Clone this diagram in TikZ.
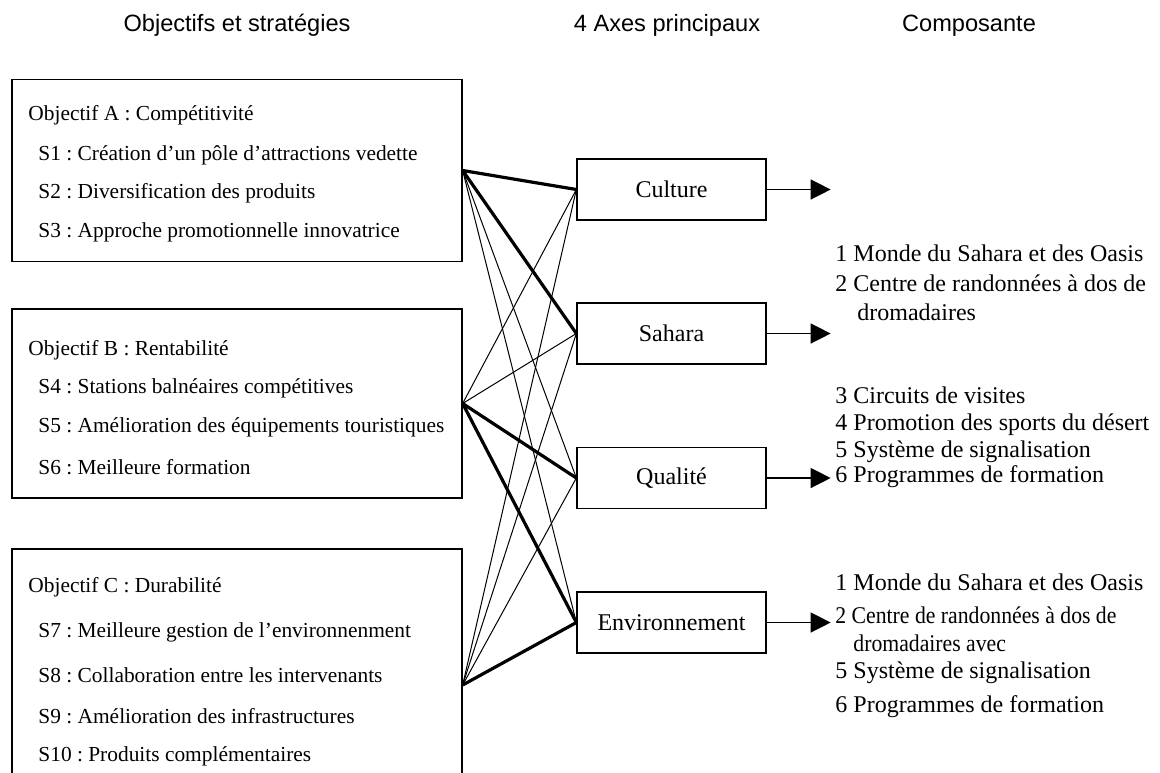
\documentclass[tikz,border=0pt]{standalone}
\usepackage{fontspec}
\setmainfont{Liberation Serif}
\newfontfamily\headfont{Liberation Sans}
\usepackage{tikz}
\usetikzlibrary{positioning,arrows.meta}
\frenchspacing

\begin{document}
\begin{tikzpicture}[x=0.5pt,y=-0.5pt,
		objbox/.style={draw, line width=0.65pt, minimum width=225pt, inner sep=0pt},
		axebox/.style={draw, line width=0.65pt, minimum width=94.5pt, minimum height=30.5pt,
			font=\fontsize{12}{14}\selectfont},
		head/.style={font=\headfont\fontsize{11.8}{14}\selectfont, text height=8.5pt, text depth=2.5pt},
		strat/.style={anchor=west, inner sep=0pt, font=\fontsize{10.7}{13}\selectfont},
		comp/.style={anchor=west, inner sep=0pt, font=\fontsize{12}{14}\selectfont},
		link/.style={line width=0.5pt},
		mainlink/.style={line width=1.6pt},
		outarrow/.style={line width=0.7pt, -{Triangle[length=10pt,width=10pt]}}]

		\useasboundingbox (0,0) rectangle (1160,772);
		\clip (0,0) rectangle (1160,772);

		% column titles
		\node[head] (h1) at (237,25) {Objectifs et stratégies};
		\node[head] (h2) at (667,25) {4 Axes principaux};
		\node[head] (h3) at (969,25) {Composante};

		% objectives
		\node[objbox, minimum height=91pt] (objA) at (237,170.5) {};
		\node[objbox, minimum height=94.5pt] (objB) at (237,403.5) {};
		\node[objbox, minimum height=136pt] (objC) at (237,685) {};

		\node[strat] (tA) at (28,115) {Objectif A : Compétitivité};
		\node[strat] (s1) at (38,155) {S1 : Création d’un pôle d’attractions vedette};
		\node[strat] (s2) at (38,193) {S2 : Diversification des produits};
		\node[strat] (s3) at (38,232) {S3 : Approche promotionnelle innovatrice};

		\node[strat] (tB) at (28,350) {Objectif B : Rentabilité};
		\node[strat] (s4) at (38,388) {S4 : Stations balnéaires compétitives};
		\node[strat] (s5) at (38,427) {S5 : Amélioration des équipements touristiques};
		\node[strat] (s6) at (38,467) {S6 : Meilleure formation};

		\node[strat] (tC) at (28,587) {Objectif C : Durabilité};
		\node[strat] (s7) at (38,632) {S7 : Meilleure gestion de l’environnenment};
		\node[strat] (s8) at (38,675) {S8 : Collaboration entre les intervenants};
		\node[strat] (s9) at (38,716) {S9 : Amélioration des infrastructures};
		\node[strat] (s10) at (38,756) {S10 : Produits complémentaires};

		% axes
		\node[axebox] (culture) at (671.5,189.5) {Culture};
		\node[axebox] (sahara) at (671.5,333.5) {Sahara};
		\node[axebox] (qualite) at (671.5,478) {Qualité};
		\node[axebox] (envir) at (671.5,622.5) {Environnement};

		\coordinate[right=32pt of culture.east] (cultureOut);
		\coordinate[right=32pt of sahara.east] (saharaOut);
		\coordinate[right=32pt of qualite.east] (qualiteOut);
		\coordinate[right=32pt of envir.east] (envirOut);

		% links
		\draw[link] (objA.east) edge (qualite.west)
		(objA.east) edge (envir.west)
		(objB.east) edge (culture.west)
		(objB.east) edge (sahara.west)
		(objC.east) edge (culture.west)
		(objC.east) edge (sahara.west)
		(objC.east) edge (qualite.west);
		\draw[mainlink] (objA.east) edge (culture.west)
		(objA.east) edge (sahara.west)
		(objB.east) edge (qualite.west)
		(objB.east) edge (envir.west)
		(objC.east) edge (envir.west);

		\draw[outarrow] (culture.east) -- (cultureOut);
		\draw[outarrow] (sahara.east) -- (saharaOut);
		\draw[outarrow] (qualite.east) -- (qualiteOut);
		\draw[outarrow] (envir.east) -- (envirOut);

		% components
		\node[comp] (c1) at (835,253) {1 Monde du Sahara et des Oasis};
		\node[comp] (c2) at (835,283) {2 Centre de randonnées à dos de};
		\node[comp] (c3) at (857,312) {dromadaires};

		\node[comp] (c4) at (835,395) {3 Circuits de visites};
		\node[comp] (c5) at (835,425) {4 Promotion des sports du désert};
		\node[comp] (c6) at (835,452) {5 Système de signalisation};
		\node[comp] (c7) at (835,477) {6 Programmes de formation};

		\node[comp] (c8) at (835,582) {1 Monde du Sahara et des Oasis};
		\node[comp] (c9) at (835,615) {\scalebox{0.905}[1]{2 Centre de randonnées à dos de}};
		\node[comp] (c10) at (853,643) {\scalebox{0.905}[1]{dromadaires avec}};
		\node[comp] (c11) at (835,673) {5 Système de signalisation};
		\node[comp] (c12) at (835,707) {6 Programmes de formation};

	\end{tikzpicture}
\end{document}
